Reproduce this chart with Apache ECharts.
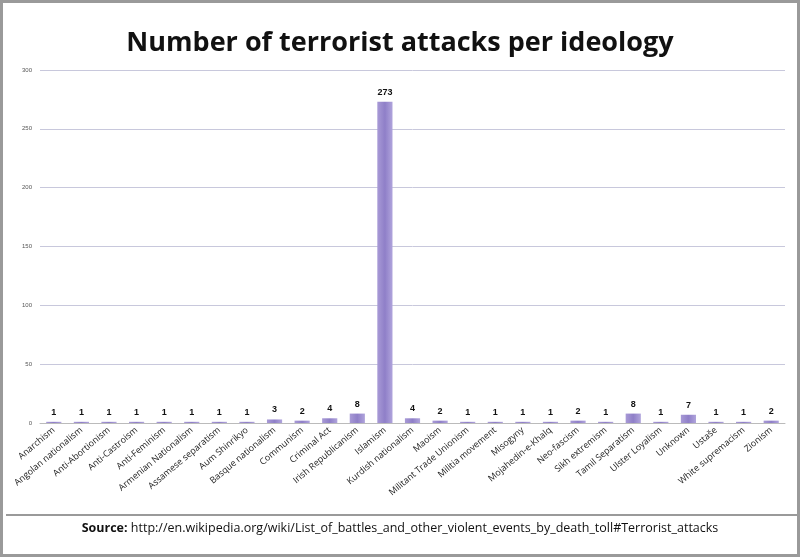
<!DOCTYPE html>
<html><head><meta charset="utf-8">
<script src="https://cdn.jsdelivr.net/npm/echarts@6/dist/echarts.min.js"></script>
<style>
body{margin:0;background:#fff}
#main{width:800px;height:557px;box-sizing:border-box;border:3px solid #9a9a9a}
</style></head><body>
<div id="main"></div>
<script>
var categories = ['Anarchism','Angolan nationalism','Anti-Abortionism','Anti-Castroism','Anti-Feminism','Armenian Nationalism','Assamese separatism','Aum Shinrikyo','Basque nationalism','Communism','Criminal Act','Irish Republicanism','Islamism','Kurdish nationalism','Maoism','Militant Trade Unionism','Militia movement','Misogyny','Mojahedin-e-Khalq','Neo-fascism','Sikh extremism','Tamil Separatism','Ulster Loyalism','Unknown','Ustaše','White supremacism','Zionism'];
var attacks = [1,1,1,1,1,1,1,1,3,2,4,8,273,4,2,1,1,1,1,2,1,8,1,7,1,1,2];
var yTicks = [0,50,100,150,200,250,300];

var myChart = echarts.init(document.getElementById('main'));
var option = {
    title: [{
        text: 'Number of terrorist attacks per ideology',
        left: 'center', top: 22,
        textStyle: {fontFamily: 'Open Sans', fontSize: 27, fontWeight: 'bold', color: '#111'}
    }, {
        text: '{b|Source:} http://en.wikipedia.org/wiki/List_of_battles_and_other_violent_events_by_death_toll#Terrorist_attacks',
        left: 'center', bottom: 14,
        textStyle: {fontFamily: 'Open Sans', fontSize: 12.5, fontWeight: 'normal', color: '#111',
            rich: {b: {fontFamily: 'Open Sans', fontSize: 12.5, fontWeight: 'bold', color: '#111'}}}
    }],
    graphic: [{
        type: 'line', shape: {x1: 3, y1: 512, x2: 797, y2: 512},
        style: {stroke: '#9a9a9a', lineWidth: 2}
    }],
    grid: {left: 37, right: 12, top: 67, bottom: 131},
    xAxis: {
        type: 'category', data: categories,
        axisTick: {show: false},
        axisLine: {lineStyle: {color: '#bbb'}},
        axisLabel: {rotate: 40, interval: 0, fontSize: 9, color: '#222', fontFamily: 'Open Sans', margin: 6}
    },
    yAxis: {
        type: 'value', min: yTicks[0], max: yTicks[yTicks.length - 1], interval: 50,
        axisLine: {show: false}, axisTick: {show: false},
        axisLabel: {fontSize: 6, color: '#555'},
        splitLine: {lineStyle: {color: '#c8c8dc'}}
    },
    series: [{
        type: 'bar', data: attacks, barWidth: '55%',
        itemStyle: {color: new echarts.graphic.LinearGradient(0, 0, 1, 0, [
            {offset: 0, color: '#a89ad6'}, {offset: 0.5, color: '#8f7fc8'}, {offset: 1, color: '#b0a4dc'}])},
        label: {show: true, position: 'top', fontSize: 9, fontWeight: 'bold', color: '#111'}
    }]
};
myChart.setOption(option);
</script>
</body></html>
